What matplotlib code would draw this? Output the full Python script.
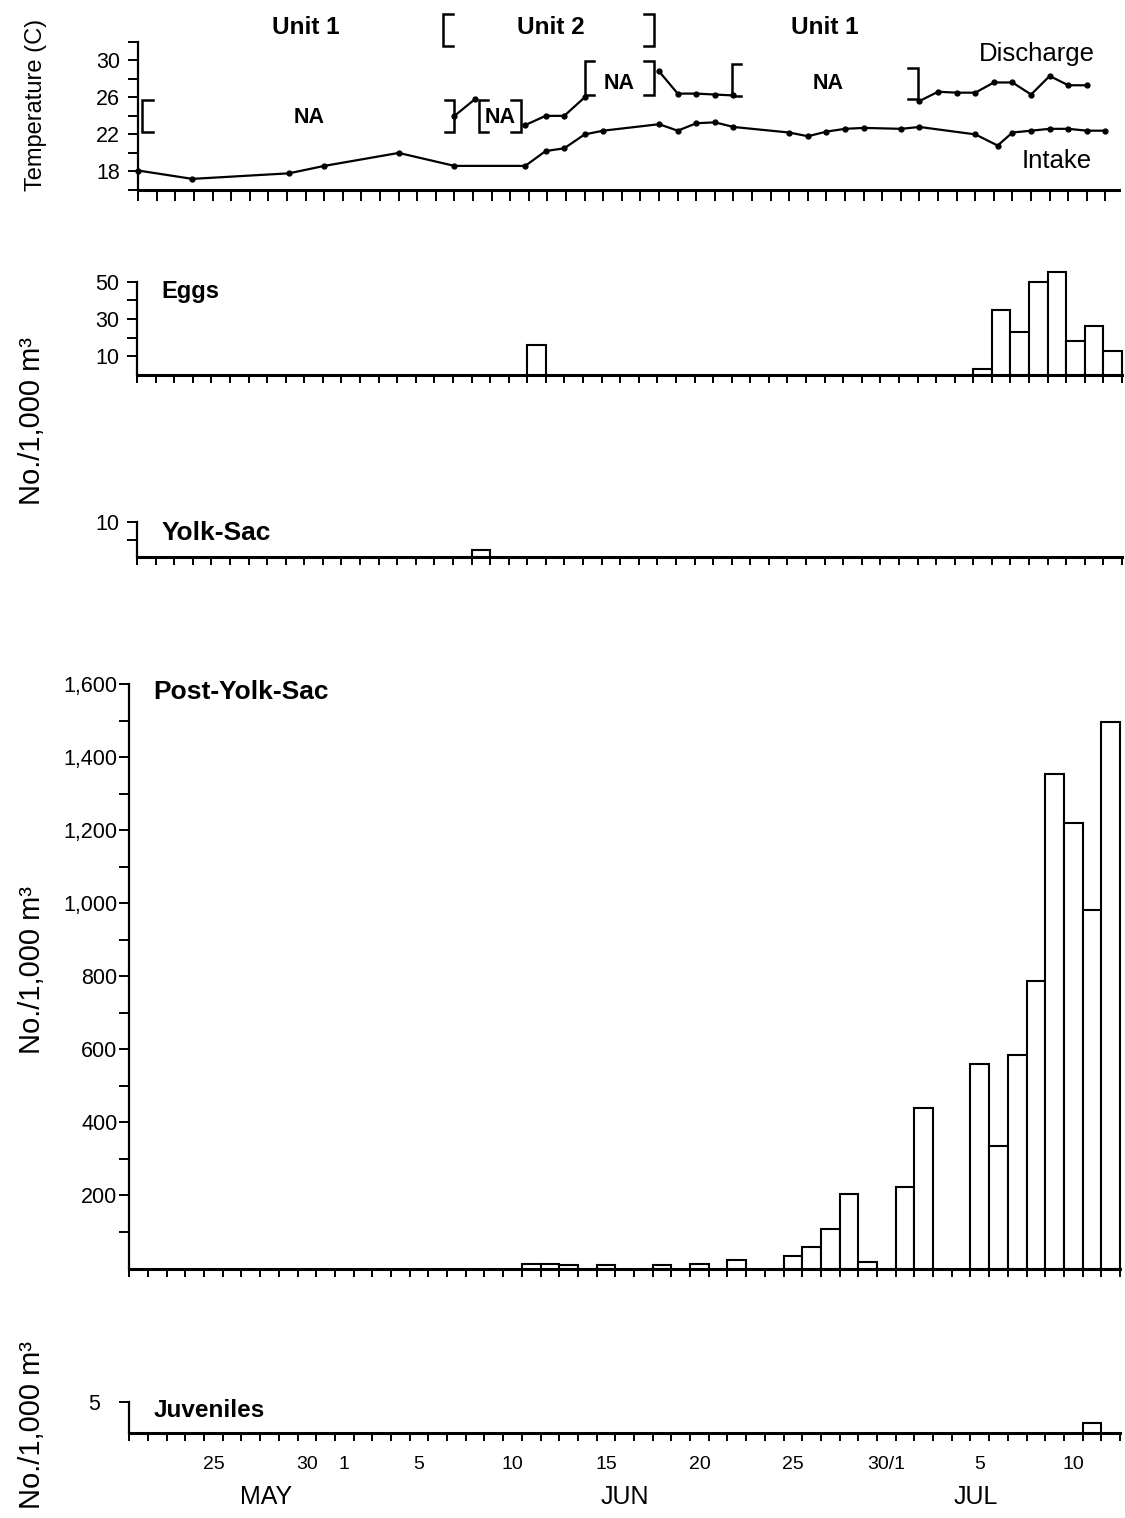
import numpy as np
import matplotlib
matplotlib.use('Agg')
import matplotlib.pyplot as plt
from matplotlib.ticker import FixedLocator, FuncFormatter

plt.rcParams['font.family'] = ['Liberation Sans', 'DejaVu Sans']

nan = np.nan

# temperature series, x = position along the temperature day axis
intake_day = [0, 2.9, 8.1, 10, 14, 17, 20.8, 21.9, 22.9, 24, 25, 28, 29, 30, 31, 32,
              35, 36, 37, 38, 39, 41, 42, 45, 46.2, 47, 48, 49, 50, 51, 52]
intake_temp = [18.1, 17.2, 17.8, 18.6, 20.0, 18.6, 18.6, 20.2, 20.5, 22.0, 22.4, 23.1,
               22.4, 23.2, 23.3, 22.8, 22.2, 21.8, 22.3, 22.6, 22.7, 22.6, 22.8, 22.0,
               20.8, 22.2, 22.4, 22.6, 22.6, 22.4, 22.4]
# gaps (nan) where discharge temperature was not available
discharge_day = [17, 18.1, nan, 20.8, 21.9, 22.9, 24, nan, 28, 29, 30, 31, 32, nan,
                 42, 43, 44, 45, 46, 47, 48, 49, 50, 51]
discharge_temp = [24.0, 25.8, nan, 23.0, 24.0, 24.0, 26.0, nan, 28.8, 26.4, 26.4, 26.3,
                  26.2, nan, 25.6, 26.6, 26.5, 26.5, 27.6, 27.6, 26.3, 28.3, 27.3, 27.3]

# densities (No./1,000 m3), day 0 = 21 May, day 40 = 30 Jun, day 41 = 1 Jul
egg_day = [21, 45, 46, 47, 48, 49, 50, 51, 52]
egg_density = [16, 3, 35, 23, 50, 55, 18, 26, 13]

yolk_day = [18]
yolk_density = [2]

post_day = [21, 22, 23, 25, 28, 30, 32, 35, 36, 37, 38, 39, 41, 42,
            45, 46, 47, 48, 49, 50, 51, 52]
post_density = [12, 12, 10, 10, 9, 12, 23, 35, 58, 108, 204, 18, 223, 440,
                560, 335, 585, 786, 1355, 1220, 980, 1495]

juv_day = [51]
juv_density = [1.7]

tick_day = [4, 9, 11, 15, 20, 25, 30, 35, 40, 45, 50]
tick_text = ['25', '30', '1', '5', '10', '15', '20', '25', '30/1', '5', '10']
month_text = ['MAY', 'JUN', 'JUL']

W, H = 1125, 1518
fig = plt.figure(figsize=(W / 100, H / 100), dpi=100)


def add_panel(left, top, right, bottom):
    return fig.add_axes([left / W, 1 - bottom / H, (right - left) / W, (bottom - top) / H])


def style(ax, ndays, pad=6):
    for s in ['top', 'right']:
        ax.spines[s].set_visible(False)
    ax.spines['left'].set_linewidth(1.6)
    ax.spines['bottom'].set_linewidth(2.2)
    ax.set_xticks(np.arange(0, ndays + 1))
    ax.tick_params(axis='x', which='major', direction='out', length=6, width=1.4,
                   labelbottom=False)
    ax.tick_params(axis='y', which='both', direction='out', length=7, width=1.4,
                   labelsize=15.5, pad=pad)


def bracket(ax, x, y0, y1, opening, w=0.5):
    d = w if opening == 'right' else -w
    ax.plot([x + d, x, x, x + d], [y0, y0, y1, y1], color='black', lw=1.8,
            clip_on=False, solid_joinstyle='miter')


# ---- temperature
ax_t = add_panel(138.3, 41.7, 1118.5, 190)
style(ax_t, 52)
ax_t.tick_params(axis='x', length=8)
ax_t.set_xlim(0, 52.7)
ax_t.set_ylim(16, 32)
ax_t.yaxis.set_major_locator(FixedLocator([18, 22, 26, 30]))
ax_t.yaxis.set_minor_locator(FixedLocator([16, 20, 24, 28, 32]))
ax_t.plot(intake_day, intake_temp, color='black', lw=1.6, marker='o', ms=3.5, clip_on=False)
ax_t.plot(discharge_day, discharge_temp, color='black', lw=1.6, marker='o', ms=3.5, clip_on=False)

bracket(ax_t, 16.4, 31.55, 35.0, 'right')
bracket(ax_t, 27.7, 31.55, 35.0, 'left')
for x, name in [(9.0, 'Unit 1'), (22.2, 'Unit 2'), (36.9, 'Unit 1')]:
    ax_t.text(x, 32.8, name, ha='center', va='baseline', fontsize=17.5, fontweight='bold')

bracket(ax_t, 0.18, 22.25, 25.7, 'right', w=0.6)
bracket(ax_t, 17.0, 22.25, 25.7, 'left')
bracket(ax_t, 18.3, 22.25, 25.7, 'right')
bracket(ax_t, 20.55, 22.25, 25.7, 'left')
bracket(ax_t, 24.0, 26.3, 29.9, 'right')
bracket(ax_t, 27.7, 26.3, 29.9, 'left')
bracket(ax_t, 31.9, 26.15, 29.55, 'right')
bracket(ax_t, 41.9, 25.8, 29.2, 'left')
for x, y in [(9.2, 23.2), (19.45, 23.2), (25.85, 26.85), (37.1, 26.85)]:
    ax_t.text(x, y, 'NA', ha='center', va='baseline', fontsize=15.5, fontweight='bold')
ax_t.text(48.3, 29.93, 'Discharge', ha='center', va='baseline', fontsize=18.5)
ax_t.text(49.4, 18.4, 'Intake', ha='center', va='baseline', fontsize=18.5)


# ---- organism density panels (53 one-day intervals from 21 May to 12 Jul)
def density_panel(x0, x1, top, bottom, days, vals, ymax, major, minor, title, title_y,
                  title_size, pad=6, fmt=None):
    ax = add_panel(x0, top, x1, bottom)
    style(ax, 53, pad)
    ax.set_xlim(0, 53)
    ax.set_ylim(0, ymax)
    ax.yaxis.set_major_locator(FixedLocator(major))
    ax.yaxis.set_minor_locator(FixedLocator(minor))
    if fmt:
        ax.yaxis.set_major_formatter(fmt)
    ax.bar(days, vals, width=1, align='edge', facecolor='white', edgecolor='black',
           linewidth=1.5, clip_on=False, zorder=3)
    ax.text(1.3, title_y, title, ha='left', va='baseline', fontsize=title_size,
            fontweight='bold')
    return ax


ax_e = density_panel(137, 1122, 281.7, 375, egg_day, egg_density, 50, [10, 30, 50],
                     [20, 40], 'Eggs', 41.4, 17)
ax_y = density_panel(137, 1122, 521.7, 557.3, yolk_day, yolk_density, 10, [10], [5],
                     'Yolk-Sac', 4.9, 19)
ax_p = density_panel(129.3, 1120, 684, 1268.5, post_day, post_density, 1600,
                     np.arange(200, 1601, 200), np.arange(100, 1600, 200),
                     'Post-Yolk-Sac', 1558, 19, pad=1.5,
                     fmt=FuncFormatter(lambda v, p: f'{int(v):,}'))
ax_j = density_panel(129.3, 1120, 1402, 1433.3, juv_day, juv_density, 5, [5], [],
                     'Juveniles', 2.6, 17.5, pad=14)

# day labels sit in the middle of each day's interval
ax_j.set_xticks(np.array(tick_day) + 0.5, tick_text, minor=True)
ax_j.tick_params(axis='x', which='minor', length=0, labelbottom=True, labelsize=14, pad=16)
month_y = -(1497 - 1433.3) / (1433.3 - 1402)
for name, x in zip(month_text, [7.3, 26.5, 45.3]):
    ax_j.text(x, month_y, name, ha='center', va='center', fontsize=18,
              transform=ax_j.get_xaxis_transform(), clip_on=False)

# axis titles
fig.text(36 / W, 1 - 105 / H, 'Temperature (C)', rotation=90, ha='center', va='center',
         fontsize=17)
for yc in [421, 970, 1425]:
    fig.text(32 / W, 1 - yc / H, 'No./1,000 m³', rotation=90, ha='center', va='center',
             fontsize=21)

fig.savefig('out.png', dpi=100, facecolor='white')
